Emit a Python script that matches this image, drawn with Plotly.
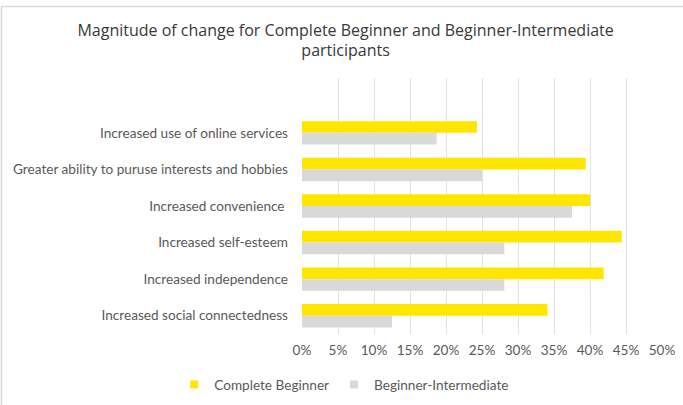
import plotly.graph_objects as go

categories = [
    "Increased use of online services",
    "Greater ability to puruse interests and hobbies",
    "Increased convenience ",
    "Increased self-esteem",
    "Increased independence",
    "Increased social connectedness",
]
complete_beginner = [0.243, 0.394, 0.400, 0.444, 0.419, 0.341]
beginner_intermediate = [0.187, 0.250, 0.375, 0.281, 0.281, 0.125]
series_names = ["Complete Beginner", "Beginner-Intermediate"]
x_ticks = [0, 0.05, 0.10, 0.15, 0.20, 0.25, 0.30, 0.35, 0.40, 0.45, 0.50]

YELLOW = "#FFE600"
GRAY = "#D9D9D9"
TEXT = "#595959"
LABEL_FONT = "Lato"

fig = go.Figure()
fig.add_trace(go.Bar(y=categories, x=complete_beginner, orientation="h",
                     marker=dict(color=YELLOW, line=dict(width=0)),
                     name=series_names[0], showlegend=False))
fig.add_trace(go.Bar(y=categories, x=beginner_intermediate, orientation="h",
                     marker=dict(color=GRAY, line=dict(width=0)),
                     name=series_names[1], showlegend=False))
# legend entries with small square markers
for nm, col in zip(series_names, [YELLOW, GRAY]):
    fig.add_trace(go.Scatter(x=[None], y=[None], mode="markers", name=nm,
                             marker=dict(symbol="square", size=8, color=col)))

fig.update_layout(
    width=683, height=405,
    margin=dict(l=302, r=21, t=78, b=71, autoexpand=False),
    paper_bgcolor="white", plot_bgcolor="white",
    barmode="group", bargap=0.36, bargroupgap=0,
    title=dict(text="Magnitude of change for Complete Beginner and Beginner-Intermediate<br>participants",
               x=0.506, xanchor="center", y=0.912, yanchor="middle",
               font=dict(family="Open Sans", size=16, color="#383838")),
    font=dict(family=LABEL_FONT, color=TEXT),
    xaxis=dict(range=[0, 0.5], tickvals=x_ticks, tickformat=".0%",
               showgrid=True, gridcolor="#E3E3E3", gridwidth=1,
               zeroline=False, showline=False,
               tickfont=dict(family=LABEL_FONT, size=13.6, color=TEXT),
               ticklabelstandoff=6),
    yaxis=dict(type="category", categoryorder="array", categoryarray=categories,
               range=[5.5, -1.5], showgrid=False, zeroline=False,
               tickfont=dict(family=LABEL_FONT, size=13.6, color=TEXT),
               ticklabelstandoff=13),
    legend=dict(orientation="h", xref="container", yref="container",
                x=0.504, xanchor="center", y=0.05, yanchor="middle",
                font=dict(family=LABEL_FONT, size=13.6, color=TEXT),
                itemwidth=30, bgcolor="rgba(0,0,0,0)"),
    shapes=[dict(type="rect", xref="paper", yref="paper",
                 x0=(1.5 - 302) / 360, x1=(700 - 302) / 360,
                 y0=-(420 - 334) / 256, y1=(334 - 6.5) / 256,
                 line=dict(color="#D9D9D9", width=1.5), fillcolor="rgba(0,0,0,0)",
                 layer="below")],
)

fig.write_html("out.html")
